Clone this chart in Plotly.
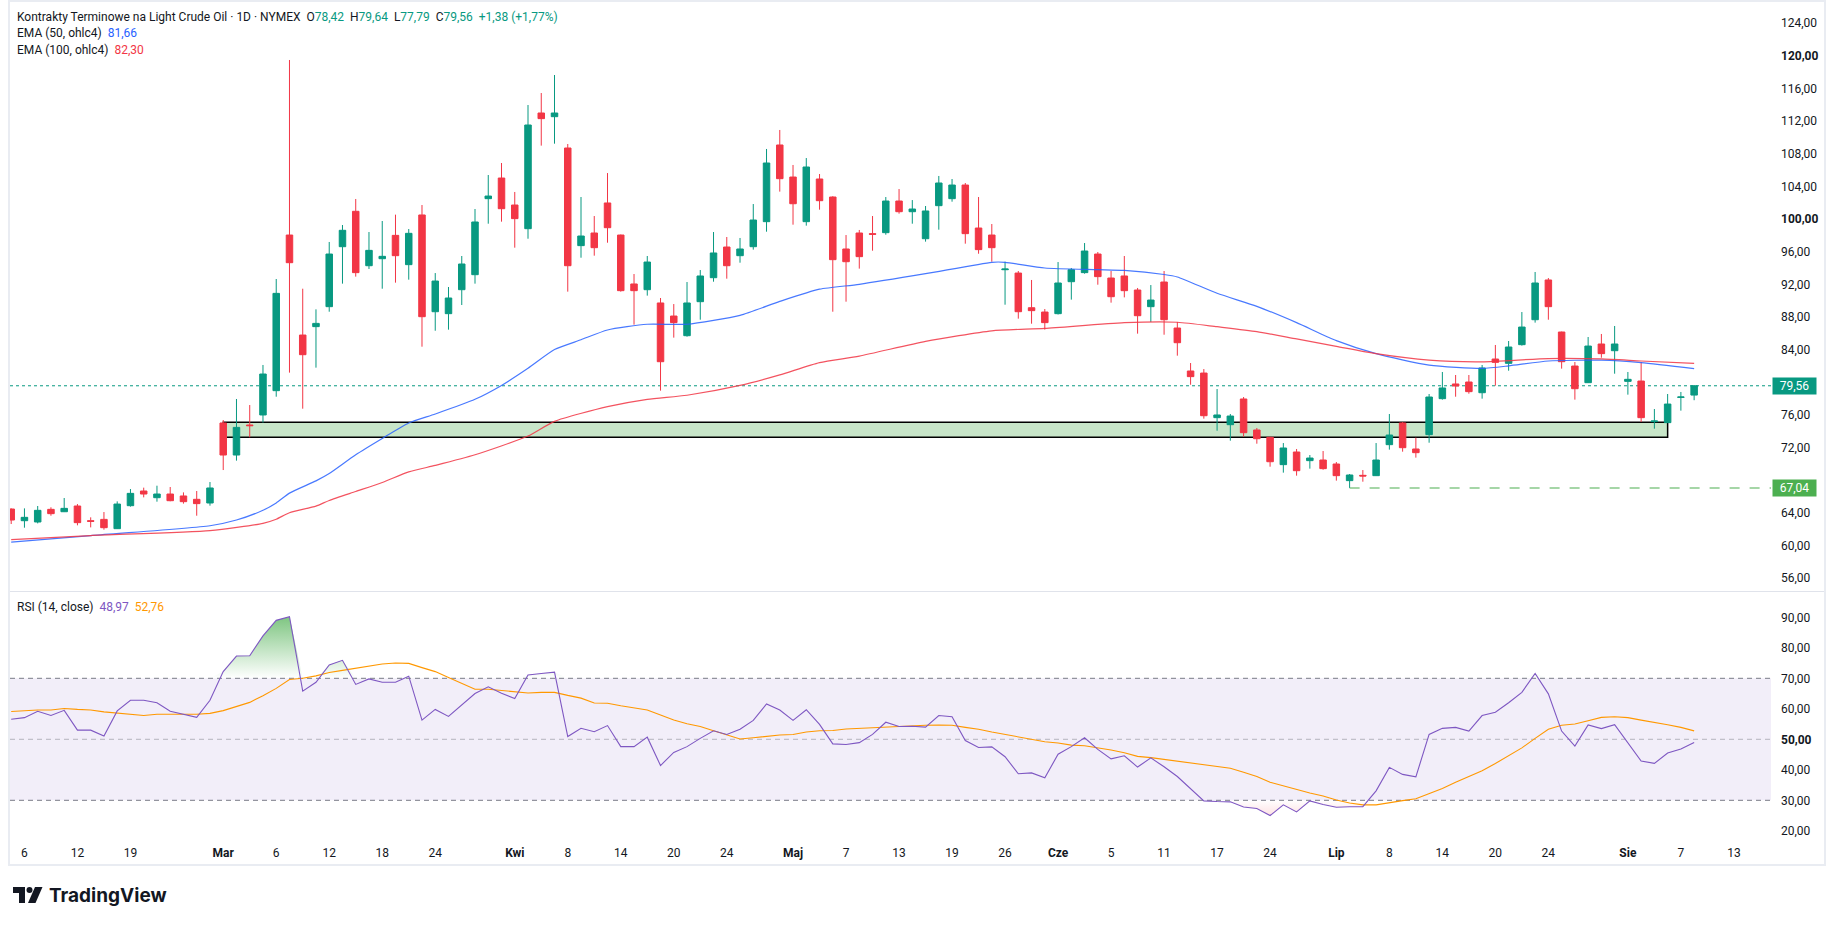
import plotly.graph_objects as go

# ── data ───────────────────────────────────────────────────────────────────
OPEN = [64.45, 63.02, 62.86, 64.41, 64.12, 64.82, 63.02, 63.18, 62.04, 64.86,
        66.66, 65.84, 66.29, 66.05, 65.64, 65.19, 75.00, 71.07, 74.75, 75.98,
        78.96, 98.04, 85.78, 86.81, 89.26, 96.61, 100.95, 94.28, 95.14, 98.00,
        94.41, 100.50, 88.64, 88.40, 91.34, 93.18, 102.50, 105.03, 101.72, 98.82,
        113.00, 112.55, 108.71, 96.74, 98.29, 101.97, 98.04, 92.04, 91.34, 89.71,
        88.11, 85.70, 89.87, 92.81, 96.57, 95.51, 96.61, 99.68, 109.08, 105.15,
        99.68, 104.91, 102.70, 96.33, 98.29, 98.21, 98.33, 102.21, 100.90, 97.59,
        101.64, 102.50, 104.17, 98.90, 98.04, 93.79, 93.38, 89.13, 88.60, 88.40,
        92.32, 93.43, 95.71, 92.77, 93.02, 91.30, 89.26, 92.28, 86.64, 81.37,
        81.12, 75.65, 74.79, 77.94, 74.14, 73.24, 69.89, 71.44, 70.38, 70.46,
        69.97, 67.93, 68.58, 68.54, 72.34, 75.00, 71.81, 73.57, 77.98, 79.78,
        80.02, 78.71, 82.84, 82.31, 84.60, 87.66, 92.53, 86.15, 81.98, 79.94,
        84.68, 83.86, 80.10, 80.14, 75.16, 75.04, 78.14, 78.42]
HIGH = [64.53, 64.53, 64.82, 64.66, 65.80, 65.06, 63.43, 64.08, 65.39, 66.90,
        67.07, 67.31, 67.15, 66.49, 66.66, 67.76, 75.36, 77.94, 77.20, 82.11,
        92.65, 119.50, 91.46, 88.93, 97.19, 99.27, 102.46, 98.41, 99.76, 100.54,
        98.78, 101.72, 93.38, 91.67, 95.47, 101.23, 105.40, 106.87, 103.32, 113.98,
        115.45, 117.66, 109.20, 102.70, 100.37, 105.64, 98.10, 93.26, 95.47, 90.32,
        89.58, 92.28, 93.75, 98.41, 97.80, 97.68, 101.84, 108.59, 110.92, 106.63,
        107.48, 105.52, 102.80, 98.04, 98.66, 100.37, 102.70, 103.68, 102.33, 101.60,
        105.28, 104.91, 104.42, 102.70, 99.39, 94.77, 93.63, 92.53, 88.97, 94.73,
        94.00, 97.06, 95.96, 93.63, 95.47, 91.55, 91.91, 93.63, 87.38, 82.35,
        81.61, 79.16, 76.10, 78.18, 74.38, 73.30, 72.54, 71.81, 71.07, 71.56,
        70.21, 68.74, 69.23, 72.54, 76.10, 75.12, 73.20, 78.55, 81.25, 80.88,
        80.88, 82.11, 84.56, 85.05, 88.60, 93.51, 92.77, 86.20, 82.47, 85.54,
        85.91, 86.89, 81.25, 82.47, 76.71, 78.55, 78.80, 79.64]
LOW = [62.61, 62.16, 62.69, 63.63, 64.08, 62.45, 62.20, 61.92, 62.00, 64.74,
       65.88, 65.35, 65.40, 65.11, 63.63, 64.86, 69.23, 70.38, 73.24, 75.04,
       78.22, 81.17, 76.75, 81.78, 88.64, 92.08, 92.94, 93.88, 91.46, 92.20,
       92.57, 84.35, 86.31, 86.44, 89.46, 92.08, 99.43, 99.68, 96.49, 97.59,
       109.00, 109.24, 91.10, 95.26, 95.51, 97.10, 91.10, 87.05, 90.61, 78.96,
       85.46, 85.58, 87.66, 92.32, 92.69, 94.65, 96.25, 98.45, 103.36, 99.31,
       99.19, 101.15, 88.64, 89.87, 93.92, 96.12, 98.08, 100.66, 99.43, 97.23,
       98.70, 102.13, 96.98, 95.75, 94.77, 89.50, 87.79, 87.17, 86.44, 88.30,
       90.12, 93.30, 91.95, 89.75, 90.40, 85.95, 87.38, 85.82, 83.25, 79.69,
       75.53, 74.05, 72.83, 73.32, 72.46, 69.64, 68.91, 68.54, 69.40, 69.27,
       67.93, 67.04, 67.80, 68.50, 71.73, 71.48, 70.75, 72.58, 77.86, 78.22,
       78.59, 77.98, 79.57, 81.41, 84.48, 87.30, 87.66, 81.66, 77.86, 79.90,
       83.00, 81.04, 78.47, 75.12, 74.30, 75.00, 76.51, 77.79]
CLOSE = [63.10, 63.43, 64.29, 63.88, 64.53, 62.78, 62.94, 62.16, 65.06, 66.37,
         66.29, 66.29, 65.47, 65.35, 65.11, 67.03, 71.07, 74.46, 74.67, 81.00,
         90.89, 94.65, 83.37, 87.21, 95.71, 98.62, 93.43, 96.16, 95.43, 95.51,
         98.25, 88.03, 92.40, 90.32, 94.49, 99.64, 102.82, 101.27, 100.05, 111.53,
         112.31, 113.00, 94.28, 97.92, 96.49, 98.94, 91.22, 91.22, 94.73, 82.51,
         87.30, 89.71, 93.02, 95.84, 94.28, 96.33, 99.88, 106.87, 104.95, 101.88,
         106.38, 102.25, 95.02, 94.77, 95.39, 98.13, 102.21, 100.90, 101.23, 100.99,
         104.42, 104.17, 98.21, 96.25, 96.49, 93.87, 88.64, 88.77, 87.30, 92.16,
         93.79, 96.08, 92.94, 90.48, 91.22, 88.15, 90.07, 87.66, 84.84, 80.68,
         75.89, 75.98, 75.85, 73.81, 73.07, 70.25, 71.93, 69.15, 70.70, 69.40,
         68.54, 68.62, 68.50, 70.46, 73.52, 71.97, 71.36, 78.18, 79.29, 79.53,
         78.84, 81.74, 82.43, 84.31, 86.76, 92.16, 89.26, 82.51, 79.20, 84.43,
         83.50, 84.68, 80.35, 75.65, 75.24, 77.32, 78.18, 79.56]
BARS = list(range(len(CLOSE)))

EMA50_IDX = [0, 6, 15, 17, 19, 20, 21, 23, 24, 26, 28, 30, 32, 35, 37, 39, 41, 43, 45, 48,
             51, 55, 58, 61, 64, 69, 74, 75, 78, 82, 84, 87, 88, 91, 94, 97, 100, 103, 107, 111,
             113, 116, 120, 123, 127]
EMA50_VAL = [60.4, 61.2, 62.4, 63.1, 64.3, 65.2, 66.4, 67.9, 68.8, 71.1, 73.1, 75.0, 76.1, 77.9,
             79.6, 81.7, 84.0, 85.2, 86.4, 87.1, 87.1, 88.2, 89.9, 91.4, 92.0, 93.3, 94.7, 94.7,
             94.0, 93.8, 93.7, 93.2, 92.9, 90.9, 89.3, 87.3, 85.1, 83.5, 82.1, 81.7, 82.0, 82.6,
             82.7, 82.4, 81.66]
EMA100_IDX = [0, 6, 15, 19, 20, 21, 23, 24, 26, 28, 30, 32, 35, 39, 41, 45, 48, 51, 55, 58,
              61, 64, 69, 74, 78, 84, 88, 91, 94, 97, 100, 103, 107, 111, 116, 120, 123, 127]
EMA100_VAL = [60.7, 61.2, 61.8, 62.7, 63.2, 64.0, 64.8, 65.5, 66.6, 67.7, 69.0, 69.8, 71.1, 73.4,
              75.2, 77.0, 77.9, 78.4, 79.6, 80.9, 82.4, 83.2, 85.0, 86.3, 86.6, 87.3, 87.35, 86.8,
              86.2, 85.3, 84.4, 83.5, 82.7, 82.5, 82.9, 82.85, 82.6, 82.3]

RSI = [56.6, 57.1, 59.2, 57.8, 59.5, 53.0, 53.0, 51.1, 59.3, 62.8,
       62.8, 62.0, 59.2, 58.2, 57.2, 62.8, 72.2, 77.3, 77.4, 83.9,
       89.0, 90.2, 65.8, 68.7, 74.4, 75.9, 68.0, 69.8, 68.7, 68.7,
       70.7, 56.3, 59.8, 57.5, 61.3, 65.0, 67.2, 65.1, 63.4, 71.1,
       71.6, 72.0, 50.9, 53.6, 52.5, 54.5, 47.6, 47.6, 50.7, 41.4,
       45.7, 47.6, 50.3, 52.8, 51.6, 53.3, 56.2, 61.6, 59.6, 56.2,
       59.7, 54.9, 48.5, 48.3, 48.9, 51.6, 55.6, 54.2, 54.3, 54.0,
       57.8, 57.4, 49.6, 47.3, 47.5, 44.3, 38.7, 39.0, 37.4, 45.1,
       47.6, 50.5, 46.7, 43.6, 44.6, 40.9, 43.9, 41.0, 37.8, 33.7,
       29.8, 29.6, 29.5, 27.8, 27.3, 25.0, 28.5, 26.2, 29.8, 28.6,
       27.7, 27.9, 27.9, 33.1, 40.8, 38.5, 37.7, 51.6, 53.6, 53.9,
       52.7, 57.8, 58.9, 62.0, 65.4, 71.6, 64.9, 52.7, 47.8, 54.7,
       53.5, 54.8, 48.7, 42.9, 42.1, 45.5, 46.8, 48.97]
RSI_MA = [59.1, 59.4, 59.6, 59.6, 60.1, 59.8, 59.6, 59.0, 58.6, 58.2,
          57.8, 58.2, 58.3, 58.2, 58.2, 58.5, 59.4, 60.7, 62.1, 64.3,
          66.7, 69.6, 70.0, 70.8, 71.9, 72.6, 73.3, 74.0, 74.7, 75.0,
          74.9, 73.5, 72.2, 70.3, 68.4, 66.4, 66.4, 66.0, 65.4, 65.2,
          65.4, 65.4, 64.4, 63.5, 61.9, 61.8, 61.0, 60.4, 59.6, 58.0,
          56.3, 55.1, 54.2, 52.8, 51.4, 50.1, 50.5, 51.0, 51.4, 51.6,
          52.4, 52.8, 52.9, 53.4, 53.6, 53.8, 54.2, 54.3, 54.5, 54.6,
          54.7, 54.6, 53.9, 53.3, 52.4, 51.6, 51.0, 50.2, 49.2, 48.8,
          48.1, 47.9, 47.3, 46.5, 45.6, 44.4, 44.0, 43.4, 42.9, 42.1,
          41.6, 41.0, 40.5, 39.2, 37.8, 35.9, 34.7, 33.5, 32.4, 31.4,
          30.1, 29.1, 28.5, 28.5, 29.3, 29.9, 30.5, 32.2, 33.9, 35.9,
          37.7, 39.7, 42.1, 44.6, 47.2, 50.3, 53.3, 54.6, 55.0, 56.1,
          57.2, 57.4, 57.1, 56.3, 55.6, 54.8, 53.9, 52.76]

TICK_IDX = [1, 5, 9, 16, 20, 24, 28, 32, 38, 42, 46, 50, 54, 59, 63, 67, 71, 75, 79, 83,
            87, 91, 95, 100, 104, 108, 112, 116, 122, 126, 130]
TICK_TEXT = ["6", "12", "19", "<b>Mar</b>", "6", "12", "18", "24", "<b>Kwi</b>", "8", "14",
             "20", "24", "<b>Maj</b>", "7", "13", "19", "26", "<b>Cze</b>", "5", "11", "17",
             "24", "<b>Lip</b>", "8", "14", "20", "24", "<b>Sie</b>", "7", "13"]
PRICE_TICKS = [56, 60, 64, 68, 72, 76, 80, 84, 88, 92, 96, 100, 104, 108, 112, 116, 120, 124]
RSI_TICKS = [20, 30, 40, 50, 60, 70, 80, 90]

ZONE_LOW, ZONE_HIGH = 73.24, 75.08
ZONE_FROM, ZONE_TO = 16, 125
SUPPORT = 67.04
SUPPORT_FROM = 101

# ── styling ───────────────────────────────────────────────────────────────
GREEN = "#089981"
RED = "#F23645"
BLUE = "#2962FF"
PURPLE = "#7E57C2"
ORANGE = "#FF9800"
TXT = "#131722"
FONT = "Roboto, 'Noto Sans', sans-serif"

# pixel frame of the plotting area in the 1835x925 picture
L, R, T, B = 10, 1771, 2, 838
XRANGE = [-0.09, 132.8]


def px(x):
    return (x - L) / (R - L)


def py(y):
    return (B - y) / (B - T)


def num(v):
    return f"{v:.2f}".replace(".", ",")


fig = go.Figure()

fig.add_trace(go.Candlestick(
    x=BARS, open=OPEN, high=HIGH, low=LOW, close=CLOSE,
    increasing=dict(line=dict(color=GREEN, width=1), fillcolor=GREEN),
    decreasing=dict(line=dict(color=RED, width=1), fillcolor=RED),
    whiskerwidth=0, hoverinfo="skip", showlegend=False,
))
fig.add_trace(go.Scatter(x=EMA50_IDX, y=EMA50_VAL, mode="lines",
                         line=dict(color=BLUE, width=1.2, shape="spline", smoothing=0.6),
                         opacity=0.85, hoverinfo="skip", showlegend=False))
fig.add_trace(go.Scatter(x=EMA100_IDX, y=EMA100_VAL, mode="lines",
                         line=dict(color=RED, width=1.2, shape="spline", smoothing=0.6),
                         opacity=0.85, hoverinfo="skip", showlegend=False))

# RSI pane: overbought / oversold gradient fills
fig.add_trace(go.Scatter(x=BARS, y=[70] * len(BARS), mode="lines", line=dict(width=0),
                         xaxis="x2", yaxis="y2", hoverinfo="skip", showlegend=False))
fig.add_trace(go.Scatter(x=BARS, y=[max(v, 70) for v in RSI], mode="lines", line=dict(width=0),
                         fill="tonexty",
                         fillgradient=dict(type="vertical", start=70, stop=91,
                                           colorscale=[[0, "rgba(76,175,80,0)"],
                                                       [1, "rgba(76,175,80,0.75)"]]),
                         xaxis="x2", yaxis="y2", hoverinfo="skip", showlegend=False))
fig.add_trace(go.Scatter(x=BARS, y=[30] * len(BARS), mode="lines", line=dict(width=0),
                         xaxis="x2", yaxis="y2", hoverinfo="skip", showlegend=False))
fig.add_trace(go.Scatter(x=BARS, y=[min(v, 30) for v in RSI], mode="lines", line=dict(width=0),
                         fill="tonexty",
                         fillgradient=dict(type="vertical", start=24, stop=30,
                                           colorscale=[[0, "rgba(242,54,69,0.18)"],
                                                       [1, "rgba(242,54,69,0)"]]),
                         xaxis="x2", yaxis="y2", hoverinfo="skip", showlegend=False))
fig.add_trace(go.Scatter(x=BARS, y=RSI_MA, mode="lines", line=dict(color=ORANGE, width=1.1),
                         xaxis="x2", yaxis="y2", hoverinfo="skip", showlegend=False))
fig.add_trace(go.Scatter(x=BARS, y=RSI, mode="lines", line=dict(color=PURPLE, width=1.1),
                         xaxis="x2", yaxis="y2", hoverinfo="skip", showlegend=False))

shapes = [
    # demand zone
    dict(type="rect", xref="x", yref="y", x0=ZONE_FROM, x1=ZONE_TO, y0=ZONE_LOW, y1=ZONE_HIGH,
         fillcolor="#c8e6c9", line=dict(color="#000000", width=1.5), layer="below"),
    # last price
    dict(type="line", xref="x", yref="y", x0=XRANGE[0], x1=XRANGE[1], y0=CLOSE[-1], y1=CLOSE[-1],
         line=dict(color=GREEN, width=1, dash="dot"), layer="below"),
    # support line from the July low
    dict(type="line", xref="x", yref="y", x0=SUPPORT_FROM, x1=XRANGE[1], y0=SUPPORT, y1=SUPPORT,
         line=dict(color="#a5d6a7", width=2, dash="10px,10px"), layer="below"),
    # RSI band and levels
    dict(type="rect", xref="x2", yref="y2", x0=XRANGE[0], x1=XRANGE[1], y0=30, y1=70,
         fillcolor="rgba(126,87,194,0.1)", line=dict(width=0), layer="below"),
    dict(type="line", xref="x2", yref="y2", x0=XRANGE[0], x1=XRANGE[1], y0=70, y1=70,
         line=dict(color="#787b86", width=1, dash="5px,4px"), layer="below"),
    dict(type="line", xref="x2", yref="y2", x0=XRANGE[0], x1=XRANGE[1], y0=50, y1=50,
         line=dict(color="rgba(120,123,134,0.5)", width=1, dash="5px,4px"), layer="below"),
    dict(type="line", xref="x2", yref="y2", x0=XRANGE[0], x1=XRANGE[1], y0=30, y1=30,
         line=dict(color="#787b86", width=1, dash="5px,4px"), layer="below"),
    # pane separator and outer frame
    dict(type="line", xref="paper", yref="paper", x0=px(10), x1=px(1825), y0=py(591.5), y1=py(591.5),
         line=dict(color="#e0e3eb", width=1)),
    dict(type="rect", xref="paper", yref="paper", x0=px(9), x1=px(1825), y0=py(865), y1=py(1),
         line=dict(color="#e9ecf2", width=2)),
]


def path(points):
    return "M " + " L ".join(f"{px(x)},{py(y)}" for x, y in points) + " Z"


# TradingView logo mark
shapes.append(dict(type="path", xref="paper", yref="paper", fillcolor=TXT, line=dict(width=0),
                   path=path([(13, 887), (25, 887), (25, 903), (19, 903), (19, 893), (13, 893)])))
shapes.append(dict(type="circle", xref="paper", yref="paper", fillcolor=TXT, line=dict(width=0),
                   x0=px(26.5), x1=px(32.5), y0=py(893), y1=py(887)))
shapes.append(dict(type="path", xref="paper", yref="paper", fillcolor=TXT, line=dict(width=0),
                   path=path([(35, 887), (42.5, 887), (35.5, 903), (28, 903)])))

chg = CLOSE[-1] - CLOSE[-2]
pct = chg / CLOSE[-2] * 100
nb = "\u00a0"


def g(s):
    return f'<span style="color:{GREEN}">{s}</span>'


header = (f"Kontrakty Terminowe na Light Crude Oil · 1D · NYMEX{nb}{nb}"
          f"O{g(num(OPEN[-1]))}{nb}{nb}H{g(num(HIGH[-1]))}{nb}{nb}"
          f"L{g(num(LOW[-1]))}{nb}{nb}C{g(num(CLOSE[-1]))}{nb}{nb}"
          + g(f"+{num(chg)} (+{num(pct)}%)"))

annotations = [
    dict(text=header, x=px(15), y=py(16.5)),
    dict(text=f'EMA (50, ohlc4){nb}{nb}<span style="color:{BLUE}">{num(EMA50_VAL[-1])}</span>',
         x=px(15), y=py(33.5)),
    dict(text=f'EMA (100, ohlc4){nb}{nb}<span style="color:{RED}">{num(EMA100_VAL[-1])}</span>',
         x=px(15), y=py(50.5)),
    dict(text=(f'RSI (14, close){nb}{nb}<span style="color:{PURPLE}">{num(RSI[-1])}</span>'
               f'{nb}{nb}<span style="color:{ORANGE}">{num(RSI_MA[-1])}</span>'),
         x=px(15), y=py(607)),
]
for a in annotations:
    a.update(xref="paper", yref="paper", xanchor="left", yanchor="middle", showarrow=False,
             font=dict(family=FONT, size=12, color=TXT))

for val, col in [(CLOSE[-1], GREEN), (SUPPORT, "#4caf50")]:
    annotations.append(dict(text=num(val), xref="paper", yref="y", x=1, y=val, xanchor="left",
                            yanchor="middle", xshift=1, showarrow=False, bgcolor=col,
                            width=41, height=14, borderpad=1,
                            font=dict(family=FONT, size=12, color="#ffffff")))

annotations.append(dict(text="<b>TradingView</b>", xref="paper", yref="paper", x=px(47), y=py(895),
                        xanchor="left", yanchor="middle", showarrow=False,
                        font=dict(family="Inter, Roboto, sans-serif", size=19, color=TXT)))

# 80,00 and 68,00 sit under the price tags, so they stay blank as in the original
price_text = ["" if v in (68, 80) else (f"<b>{num(v)}</b>" if v in (100, 120) else num(v))
              for v in PRICE_TICKS]
rsi_text = [f"<b>{num(v)}</b>" if v == 50 else num(v) for v in RSI_TICKS]

axis_common = dict(showgrid=False, zeroline=False, showline=False, ticks="",
                   tickfont=dict(family=FONT, size=12, color=TXT))

fig.update_layout(
    width=1835, height=925,
    margin=dict(l=L, r=1835 - R, t=T, b=925 - B),
    paper_bgcolor="#ffffff", plot_bgcolor="#ffffff",
    font=dict(family=FONT, size=12, color=TXT),
    showlegend=False,
    xaxis=dict(domain=[0, 1], anchor="y", range=XRANGE, showticklabels=False,
               rangeslider=dict(visible=False), **axis_common),
    yaxis=dict(domain=[py(591), 1], anchor="x", range=[54.40, 126.61], side="right",
               tickvals=PRICE_TICKS, ticktext=price_text, ticklabelstandoff=9, **axis_common),
    xaxis2=dict(domain=[0, 1], anchor="y2", range=XRANGE, tickvals=TICK_IDX, ticktext=TICK_TEXT,
                ticklabelstandoff=6, **axis_common),
    yaxis2=dict(domain=[0, py(592)], anchor="x2", range=[17.64, 98.3], side="right",
                tickvals=RSI_TICKS, ticktext=rsi_text, ticklabelstandoff=9, **axis_common),
    shapes=shapes,
    annotations=annotations,
)

fig.write_html("out.html", config={"displayModeBar": False},
               post_script="document.body.style.margin='0';")
